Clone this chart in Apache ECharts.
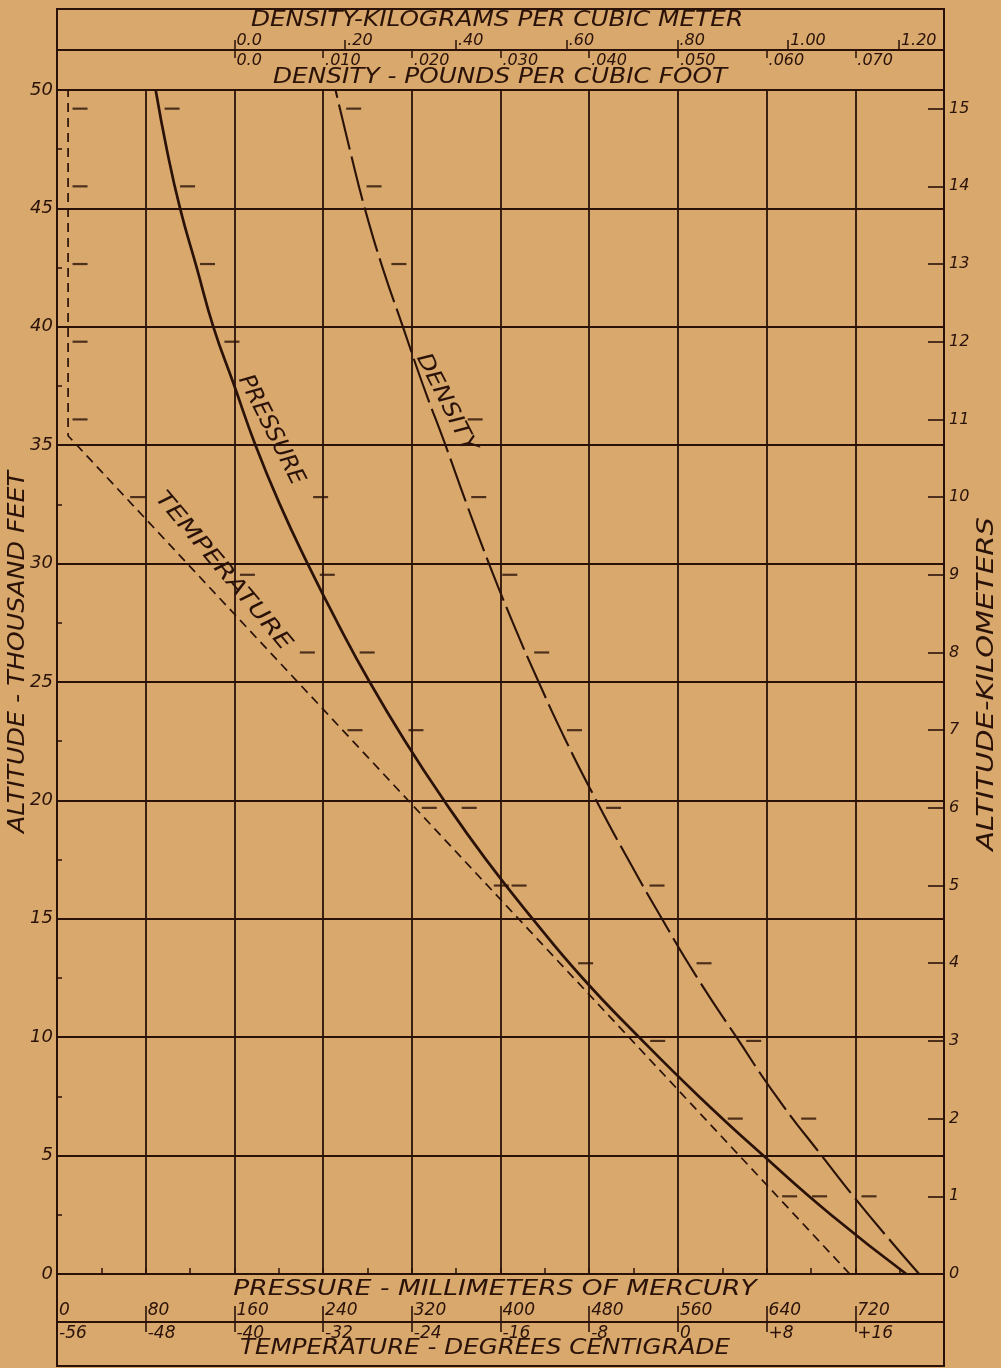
<!DOCTYPE html>
<html>
<head>
<meta charset="utf-8">
<script src="https://cdn.jsdelivr.net/npm/echarts@6/dist/echarts.min.js"></script>
<style>
html,body{margin:0;padding:0;background:#D8A86C;}
#c{width:1001px;height:1368px;}
</style>
</head>
<body>
<div id="c"></div>
<script>
// ---- data ----
const altitudeKft = [0,2.5,5,7.5,10,12.5,15,17.5,20,22.5,25,27.5,30,32.5,35,37.5,40,42.5,45,47.5,50];
const pressureMmHg = [766,698,637,579,525,474,429,387,349,314,282,253,226,201,179,160,141,126,111,99,89];
const densityLbFt3 = [0.0772,0.0715,0.0662,0.0611,0.0566,0.0522,0.0482,0.0444,0.0408,0.0374,0.0343,0.0314,0.0287,0.0262,0.0238,0.0213,0.0190,0.0167,0.0147,0.0130,0.0114];
const temperatureAltKft = [0,35.4,50];
const temperatureC = [15.5,-55,-55];

// kilometre marks along the curves
const tempMarkKm = [15,14,13,12,11,10,9,8,7,6,5,1];
const tempMarkC = [-54.6,-54.6,-54.6,-54.6,-54.6,-49.4,-39.5,-34.1,-29.8,-23.1,-16.6,9.4];
const pressureMarkKm = [15,14,13,12,10,9,8,7,6,5,4,3,2,1];
const pressureMarkMmHg = [97,111,129,151,231,237,273,317,365,410,470,535,605,681];
const densityMarkKm = [15,14,13,11,10,9,8,7,6,5,4,3,2,1];
const densityMarkLb = [0.0126,0.0149,0.0177,0.0263,0.0267,0.0302,0.0338,0.0375,0.0419,0.0468,0.0521,0.0577,0.0639,0.0707];

// tick labels
const kmTicks = [0,1,2,3,4,5,6,7,8,9,10,11,12,13,14,15];
const densityLbTicks = [0,0.01,0.02,0.03,0.04,0.05,0.06,0.07];
const densityLbLabels = ['0.0','.010','.020','.030','.040','.050','.060','.070'];
const densityKgTicks = [0,0.2,0.4,0.6,0.8,1.0,1.2];
const densityKgLabels = ['0.0','.20','.40','.60','.80','1.00','1.20'];

const KG_TO_LB = 0.062428;
const FT_PER_KM = 3.28084;

// ---- style ----
const ink = '#2a1209';
const bg = '#D8A86C';
const font = 'DejaVu Sans';
const txt = (size) => ({color: ink, fontFamily: font, fontStyle: 'italic', fontSize: size});
const gfont = (size) => 'italic ' + size + 'px "DejaVu Sans"';

const chart = echarts.init(document.getElementById('c'), null, {renderer: 'canvas'});

function findLabel(ticks, labels, v) {
  for (let i = 0; i < ticks.length; i++) if (Math.abs(ticks[i] - v) < 1e-6) return labels[i];
  return '';
}

const option = {
  backgroundColor: bg,
  animation: false,
  grid: {left: 57, right: 57, top: 90, bottom: 94},
  xAxis: [
    { // 0: pressure (plot bottom edge, grid lines)
      type: 'value', min: 0, max: 800, interval: 80, position: 'bottom',
      axisLine: {show: true, onZero: false, lineStyle: {color: ink, width: 2}},
      axisTick: {show: true, inside: true, length: 6, lineStyle: {color: ink, width: 1.5}},
      minorTick: {show: true, splitNumber: 2, length: 6, lineStyle: {color: ink, width: 1.5}},
      axisLabel: {show: false},
      splitLine: {show: true, lineStyle: {color: ink, width: 1.8}}
    },
    { // 1: pressure scale on the divider line
      type: 'value', min: 0, max: 800, interval: 80, position: 'bottom', offset: 48,
      axisLine: {show: true, onZero: false, lineStyle: {color: ink, width: 2}},
      axisTick: {show: true, inside: true, length: 16, lineStyle: {color: ink, width: 1.6}},
      axisLabel: Object.assign(txt(17), {inside: true, align: 'left', margin: 3, padding: [0,0,0,2], showMaxLabel: false,
        formatter: v => String(v)}),
      splitLine: {show: false}
    },
    { // 2: temperature scale
      type: 'value', min: -56, max: 24, interval: 8, position: 'bottom', offset: 48,
      axisLine: {show: false, onZero: false},
      axisTick: {show: true, inside: false, length: 10, lineStyle: {color: ink, width: 1.6}},
      axisLabel: Object.assign(txt(17), {align: 'left', margin: 3, padding: [0,0,0,2], showMaxLabel: false,
        formatter: v => (v > 0 ? '+' + v : String(v))}),
      splitLine: {show: false}
    },
    { // 3: density lb/ft3
      type: 'value', min: -0.02, max: 0.08, position: 'top', offset: 40,
      axisLine: {show: true, onZero: false, lineStyle: {color: ink, width: 2}},
      axisTick: {show: true, inside: true, length: 8, customValues: densityLbTicks, lineStyle: {color: ink, width: 1.5}},
      axisLabel: Object.assign(txt(16), {inside: true, align: 'left', margin: 3, padding: [0,0,0,2], customValues: densityLbTicks,
        formatter: v => findLabel(densityLbTicks, densityLbLabels, v)}),
      splitLine: {show: false}
    },
    { // 4: density kg/m3
      type: 'value', min: -0.02 / KG_TO_LB, max: 0.08 / KG_TO_LB, position: 'top', offset: 40,
      axisLine: {show: false, onZero: false},
      axisTick: {show: true, inside: false, length: 10, customValues: densityKgTicks, lineStyle: {color: ink, width: 1.5}},
      axisLabel: Object.assign(txt(16), {align: 'left', margin: 1, padding: [0,0,0,2], customValues: densityKgTicks,
        formatter: v => findLabel(densityKgTicks, densityKgLabels, v)}),
      splitLine: {show: false}
    }
  ],
  yAxis: [
    { // 0: altitude thousand feet
      type: 'value', min: 0, max: 50, interval: 5, position: 'left',
      axisLine: {show: true, onZero: false, lineStyle: {color: ink, width: 2}},
      axisTick: {show: true, inside: true, length: 5, lineStyle: {color: ink, width: 1.5}},
      minorTick: {show: true, splitNumber: 2, length: 5, lineStyle: {color: ink, width: 1.5}},
      axisLabel: Object.assign(txt(18), {margin: 4}),
      splitLine: {show: true, lineStyle: {color: ink, width: 1.8}}
    },
    { // 1: altitude kilometers
      type: 'value', min: 0, max: 50 / FT_PER_KM, position: 'right',
      axisLine: {show: true, onZero: false, lineStyle: {color: ink, width: 2}},
      axisTick: {show: true, inside: true, length: 16, customValues: kmTicks, lineStyle: {color: ink, width: 1.6}},
      axisLabel: Object.assign(txt(16), {margin: 5, customValues: kmTicks}),
      splitLine: {show: false}
    }
  ],
  series: [
    {
      name: 'Pressure', type: 'line', xAxisIndex: 0, yAxisIndex: 0, smooth: true, symbol: 'none',
      lineStyle: {color: ink, width: 2.7},
      data: altitudeKft.map((a, i) => [pressureMmHg[i], a])
    },
    {
      name: 'Density', type: 'line', xAxisIndex: 3, yAxisIndex: 0, smooth: true, symbol: 'none',
      lineStyle: {color: ink, width: 2.1, type: [46, 7]},
      data: altitudeKft.map((a, i) => [densityLbFt3[i], a])
    },
    {
      name: 'Temperature', type: 'line', xAxisIndex: 2, yAxisIndex: 0, symbol: 'none',
      lineStyle: {color: ink, width: 1.7, type: [9, 6]},
      data: temperatureAltKft.map((a, i) => [temperatureC[i], a])
    },
    {
      name: 'Temperature km marks', type: 'scatter', xAxisIndex: 2, yAxisIndex: 1,
      symbol: 'rect', symbolSize: [15, 2.2], symbolOffset: [7.5, 0], itemStyle: {color: ink},
      data: tempMarkKm.map((k, i) => [tempMarkC[i], k])
    },
    {
      name: 'Pressure km marks', type: 'scatter', xAxisIndex: 0, yAxisIndex: 1,
      symbol: 'rect', symbolSize: [15, 2.2], symbolOffset: [7.5, 0], itemStyle: {color: ink},
      data: pressureMarkKm.map((k, i) => [pressureMarkMmHg[i], k])
    },
    {
      name: 'Density km marks', type: 'scatter', xAxisIndex: 3, yAxisIndex: 1,
      symbol: 'rect', symbolSize: [15, 2.2], symbolOffset: [7.5, 0], itemStyle: {color: ink},
      data: densityMarkKm.map((k, i) => [densityMarkLb[i], k])
    }
  ],
  graphic: [
    {type: 'rect', shape: {x: 57, y: 9, width: 887, height: 1357}, style: {fill: 'none', stroke: ink, lineWidth: 2}, silent: true},
    {type: 'text', x: 497, y: 21, scaleX: 1.18, style: {text: 'DENSITY-KILOGRAMS PER CUBIC METER', align: 'center', verticalAlign: 'middle', fill: ink, font: gfont(21)}},
    {type: 'text', x: 500, y: 78, scaleX: 1.18, style: {text: 'DENSITY - POUNDS PER CUBIC FOOT', align: 'center', verticalAlign: 'middle', fill: ink, font: gfont(21)}},
    {type: 'text', x: 495, y: 1290, scaleX: 1.26, style: {text: 'PRESSURE - MILLIMETERS OF MERCURY', align: 'center', verticalAlign: 'middle', fill: ink, font: gfont(21)}},
    {type: 'text', x: 485, y: 1349, scaleX: 1.17, style: {text: 'TEMPERATURE - DEGREES CENTIGRADE', align: 'center', verticalAlign: 'middle', fill: ink, font: gfont(21)}},
    {type: 'text', x: 18, y: 652, rotation: Math.PI / 2, scaleX: 1.1, style: {text: 'ALTITUDE - THOUSAND FEET', align: 'center', verticalAlign: 'middle', fill: ink, font: gfont(23)}},
    {type: 'text', x: 987, y: 684, rotation: Math.PI / 2, scaleX: 1.26, style: {text: 'ALTITUDE-KILOMETERS', align: 'center', verticalAlign: 'middle', fill: ink, font: gfont(23)}},
    {type: 'text', x: 271, y: 430, rotation: -63 * Math.PI / 180, style: {text: 'PRESSURE', align: 'center', verticalAlign: 'middle', fill: ink, font: gfont(23)}},
    {type: 'text', x: 446, y: 403, rotation: -63 * Math.PI / 180, scaleX: 1.14, style: {text: 'DENSITY', align: 'center', verticalAlign: 'middle', fill: ink, font: gfont(22)}},
    {type: 'text', x: 223, y: 571, rotation: -50 * Math.PI / 180, scaleX: 1.24, style: {text: 'TEMPERATURE', align: 'center', verticalAlign: 'middle', fill: ink, font: gfont(22)}}
  ]
};
chart.setOption(option);
</script>
</body>
</html>
